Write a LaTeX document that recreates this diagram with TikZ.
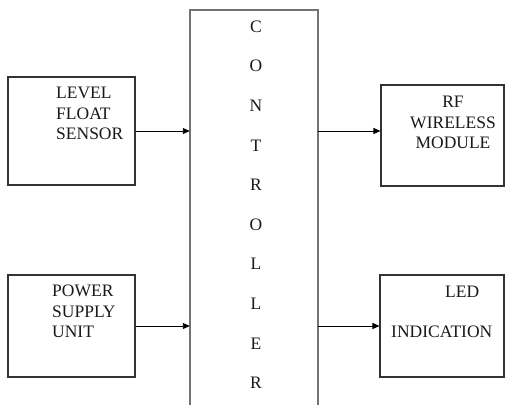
\documentclass[tikz,border=0pt]{standalone}
\usepackage{fontspec}
\setmainfont{Liberation Serif}
\usetikzlibrary{arrows.meta}
\tikzset{
  block/.style={draw=black!80, line width=1.1pt, inner sep=0pt},
  blocktext/.style={inner sep=0pt, text=black!90, font=\fontsize{17.5}{20.5}\selectfont},
  link/.style={-{Triangle[length=7pt,width=6pt]}, line width=0.9pt}
}
\begin{document}
\begin{tikzpicture}[x=1pt,y=-1pt]
\useasboundingbox (0,0) rectangle (505,405);
% blocks
\node[block, minimum width=127pt, minimum height=108pt] (sensor) at (71.5,131) {};
\node[block, minimum width=127pt, minimum height=102pt] (power) at (71.5,326) {};
\node[block, minimum width=123pt, minimum height=101pt] (rf) at (442.5,135.5) {};
\node[block, minimum width=124pt, minimum height=102pt] (led) at (442,326) {};
% controller, open at the bottom
\node[inner sep=0pt, minimum width=128pt, minimum height=395pt] (ctrl) at (254,207.5) {};
\draw[black!55, line width=1.6pt] (ctrl.south west) -- (ctrl.north west) -- (ctrl.north east) -- (ctrl.south east);
\foreach \l [count=\i] in {C,O,N,T,R,O,L,L,E,R}
  \node[blocktext, anchor=base] (ctrl\i) at (256,{32.3+39.6*(\i-1)}) {\l};
% texts
\node[blocktext, align=left, anchor=north west] (sensortxt) at (56,87) {LEVEL\\FLOAT\\SENSOR};
\node[blocktext, align=left, anchor=north west] (powertxt) at (52,285) {POWER\\SUPPLY\\UNIT};
\node[blocktext, align=center, anchor=north] (rftxt) at (453,96) {RF\\WIRELESS\\MODULE};
\node[blocktext, align=left, anchor=north west] (ledtxt) at (391,286) {\hspace*{54pt}LED\\[19.5pt]INDICATION};
% links
\draw[link] (sensor.east) -- (sensor.east -| ctrl.west);
\draw[link] (power.east) -- (power.east -| ctrl.west);
\draw[link] (sensor.east -| ctrl.east) -- (sensor.east -| rf.west);
\draw[link] (power.east -| ctrl.east) -- (power.east -| led.west);
\end{tikzpicture}
\end{document}
